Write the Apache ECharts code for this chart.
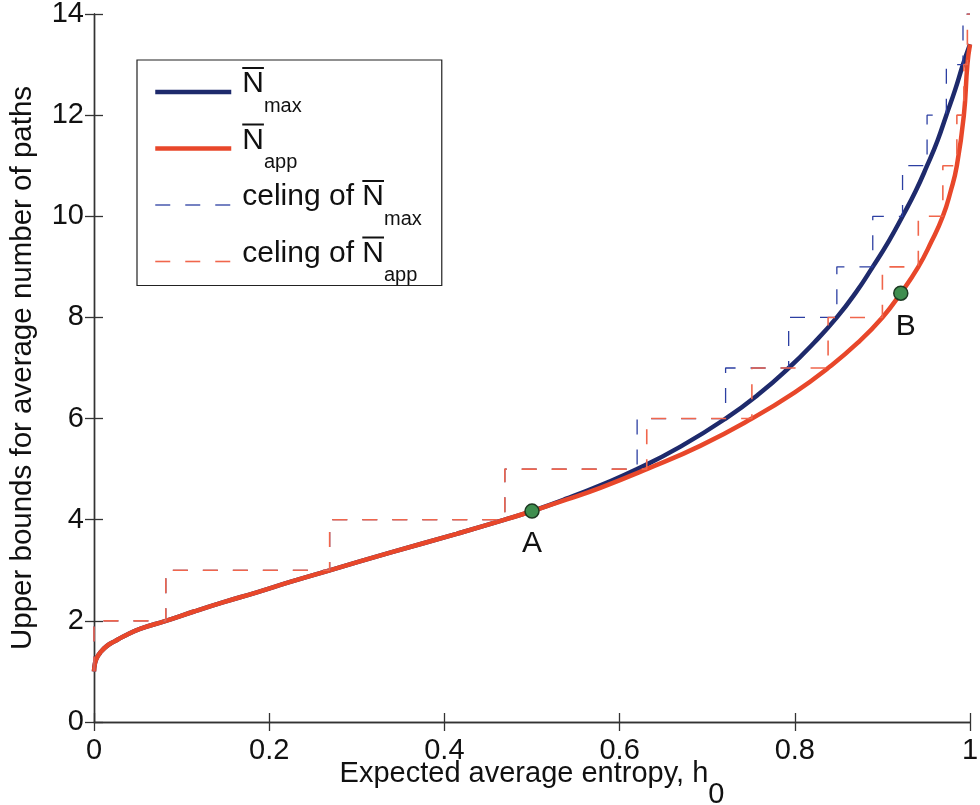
<!DOCTYPE html>
<html><head><meta charset="utf-8">
<script src="https://cdn.jsdelivr.net/npm/echarts@6/dist/echarts.min.js"></script>
<style>html,body{margin:0;padding:0;background:#fff}#c{width:980px;height:805px}</style>
</head><body><div id="c"></div>
<script>
// ---- data ----
const hApp = [0, 0.001, 0.003, 0.007, 0.0145, 0.024, 0.0335, 0.0525, 0.082, 0.115, 0.148, 0.185, 0.224, 0.269, 0.338, 0.414, 0.469, 0.5, 0.54, 0.578, 0.631, 0.692, 0.751, 0.80, 0.838, 0.872, 0.900, 0.921, 0.941, 0.956, 0.969, 0.978, 0.985, 0.993, 0.997, 1.0];
const nApp = [1.0, 1.15, 1.26, 1.37, 1.5, 1.6, 1.69, 1.84, 2.0, 2.19, 2.37, 2.56, 2.77, 3.0, 3.35, 3.72, 4.0, 4.17, 4.4, 4.63, 5.0, 5.46, 6.0, 6.52, 7.0, 7.5, 8.0, 8.48, 9.0, 9.5, 10.0, 10.5, 11.0, 12.0, 13.0, 13.4];
const hMax = [0, 0.001, 0.003, 0.007, 0.0145, 0.024, 0.0335, 0.0525, 0.082, 0.115, 0.148, 0.185, 0.224, 0.269, 0.338, 0.414, 0.469, 0.5, 0.54, 0.578, 0.620, 0.67, 0.721, 0.76, 0.793, 0.822, 0.848, 0.870, 0.889, 0.907, 0.923, 0.938, 0.951, 0.963, 0.973, 0.983, 0.992, 1.0];
const nMax = [1.0, 1.15, 1.26, 1.37, 1.5, 1.6, 1.69, 1.84, 2.0, 2.19, 2.37, 2.56, 2.77, 3.0, 3.35, 3.72, 4.0, 4.17, 4.42, 4.68, 5.0, 5.45, 6.0, 6.5, 7.0, 7.5, 8.0, 8.5, 9.0, 9.5, 10.0, 10.5, 11.0, 11.5, 12.0, 12.5, 13.0, 13.4];
// ceiling staircases: level after each jump, and where the jump happens
const ceilStart = 1;
const ceilLevels = [2, 3, 4, 5, 6, 7, 8, 9, 10, 11, 12, 13, 14];
const jumpApp = [0, 0.082, 0.269, 0.469, 0.631, 0.751, 0.838, 0.900, 0.941, 0.969, 0.985, 0.993, 0.997];
const jumpMax = [0, 0.082, 0.269, 0.469, 0.620, 0.721, 0.793, 0.848, 0.889, 0.923, 0.951, 0.973, 0.992];
// marked points
const ptNames = ['A', 'B'];
const ptH = [0.5, 0.921];
const ptN = [4.17, 8.48];
// axes
const xMin = 0, xMax = 1, xStep = 0.2;
const yMin = 0, yMax = 14, yStep = 2;
const seriesNames = ['Nmax', 'Napp', 'celing of Nmax', 'celing of Napp'];

// ---- build ----
const FONT = 'Liberation Sans, Arial, Helvetica, sans-serif';
const pairs = (xs, ys) => xs.map((x, i) => [x, ys[i]]);
function stairs(jumps, levels) {
  const out = [[xMin, ceilStart]];
  let prev = ceilStart;
  jumps.forEach((x, i) => { out.push([x, prev]); out.push([x, levels[i]]); prev = levels[i]; });
  out.push([xMax, prev]);
  return out;
}
const C_MAX = '#1e2a6c', C_APP = '#e8472a', C_DMAX = '#2c3fa2', C_DAPP = '#f0664c';
const TXT = '#111';
const LFS = 30;
const DASH = [15, 15];

const mctx = document.createElement('canvas').getContext('2d');
mctx.font = LFS + 'px ' + FONT;
const textW = s => mctx.measureText(s).width;

const legendRich = {
  t: {fontFamily: FONT, fontSize: LFS, color: TXT, verticalAlign: 'top'},
  s: {fontFamily: FONT, fontSize: 20, lineHeight: 47, color: TXT, verticalAlign: 'bottom'}
};
function legendFmt(name) {
  const m = name.match(/^(.*)N(max|app)$/);
  const pre = m[1], sub = m[2];
  let head = '';
  if (pre) {
    legendRich.hp = {fontSize: 1, width: textW(pre), height: 1, lineHeight: 1, color: 'rgba(0,0,0,0)', verticalAlign: 'bottom'};
    head += '{hp| }';
  }
  legendRich.ov = {fontSize: 1, width: textW('N'), height: 2, lineHeight: 1, color: 'rgba(0,0,0,0)', backgroundColor: TXT, verticalAlign: 'bottom'};
  head += '{ov| }';
  return head + '\n' + '{t|' + pre + 'N}{s|' + sub + '}';
}
seriesNames.forEach(legendFmt);

const axisLine = {show: true, lineStyle: {color: '#333', width: 1.4}};
const axisTick = {show: true, inside: true, length: 9, lineStyle: {color: '#333', width: 1.3}};
const labelStyle = {fontFamily: FONT, fontSize: 29, color: TXT};

const chart = echarts.init(document.getElementById('c'), null, {renderer: 'canvas'});
chart.setOption({
  animation: false,
  backgroundColor: '#fff',
  grid: {left: 94, top: 14, width: 876, height: 708, containLabel: false, outerBoundsMode: 'none'},
  legend: {
    data: seriesNames,
    orient: 'vertical',
    left: 137, top: 60,
    padding: [7, 20, 0, 16],
    itemWidth: 76, itemHeight: 14, itemGap: 7.5,
    backgroundColor: '#fff', borderColor: '#222', borderWidth: 1.2, borderRadius: 0,
    selectedMode: false,
    formatter: legendFmt,
    itemStyle: {opacity: 0},
    lineStyle: {width: 'inherit', type: 'inherit', color: 'inherit'},
    textStyle: {fontFamily: FONT, fontSize: LFS, color: TXT, rich: legendRich, padding: [0, 0, 0, 6]}
  },
  xAxis: [{
    type: 'value', min: xMin, max: xMax, interval: xStep, position: 'bottom',
    axisLine, axisTick, splitLine: {show: false},
    axisLabel: Object.assign({margin: 14}, labelStyle),
    name: '{t|Expected average entropy, h}{s|0}',
    nameLocation: 'middle', nameGap: 37, nameMoveOverlap: false,
    nameTextStyle: {rich: {
      t: {fontFamily: FONT, fontSize: 29, color: TXT, verticalAlign: 'top'},
      s: {fontFamily: FONT, fontSize: 29, color: TXT, lineHeight: 50, verticalAlign: 'bottom'}
    }}
  }, {
    type: 'value', min: xMin, max: xMax, interval: xStep, position: 'top',
    axisLine, axisTick, splitLine: {show: false}, axisLabel: {show: false}
  }],
  yAxis: [{
    type: 'value', min: yMin, max: yMax, interval: yStep, position: 'left',
    axisLine, axisTick, splitLine: {show: false},
    axisLabel: Object.assign({margin: 10}, labelStyle),
    name: 'Upper bounds for average number of paths',
    nameLocation: 'middle', nameGap: 56, nameMoveOverlap: false,
    nameTextStyle: {fontFamily: FONT, fontSize: 29.5, color: TXT}
  }, {
    type: 'value', min: yMin, max: yMax, interval: yStep, position: 'right',
    axisLine, axisTick, splitLine: {show: false}, axisLabel: {show: false}
  }],
  series: [
    {name: seriesNames[0], type: 'line', data: pairs(hMax, nMax), symbol: 'none', smooth: 0.5,
     lineStyle: {color: C_MAX, width: 4.5}, itemStyle: {color: C_MAX}, z: 2},
    {name: seriesNames[1], type: 'line', data: pairs(hApp, nApp), symbol: 'none', smooth: 0.5,
     lineStyle: {color: C_APP, width: 4.5}, itemStyle: {color: C_APP}, z: 3},
    {name: seriesNames[2], type: 'line', data: stairs(jumpMax, ceilLevels), symbol: 'none',
     lineStyle: {color: C_DMAX, width: 1.3, type: DASH}, itemStyle: {color: C_DMAX}, z: 4},
    {name: seriesNames[3], type: 'line', data: stairs(jumpApp, ceilLevels), symbol: 'none',
     lineStyle: {color: C_DAPP, width: 1.6, type: DASH}, itemStyle: {color: C_DAPP}, z: 5},
    {name: 'points', type: 'scatter', z: 10, symbolSize: 14,
     itemStyle: {color: '#3f8e4f', borderColor: '#1d3a23', borderWidth: 1.5, opacity: 1},
     label: {show: true, position: 'bottom', distance: 6, formatter: p => p.name, fontFamily: FONT, fontSize: 30, color: TXT},
     data: ptNames.map((n, i) => ({name: n, value: [ptH[i], ptN[i]], label: i === 1 ? {offset: [5, 5]} : {offset: [0, 4]}}))
    }
  ]
});
</script>
</body></html>
